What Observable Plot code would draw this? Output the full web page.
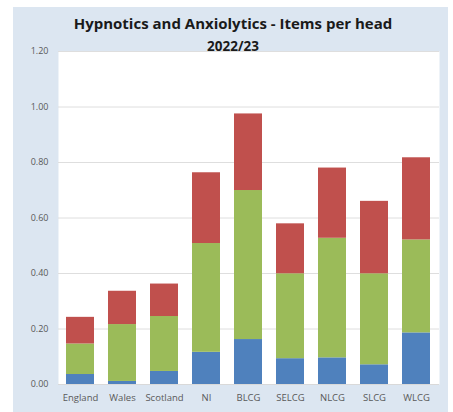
<!DOCTYPE html>
<html>
<head>
<meta charset="utf-8">
<script src="https://cdn.jsdelivr.net/npm/d3@7"></script>
<script src="https://cdn.jsdelivr.net/npm/@observablehq/plot@0.6"></script>
<style>
  html, body { margin: 0; padding: 0; background: #ffffff; }
  #wrap { position: relative; width: 453px; height: 412px; overflow: hidden; background: #ffffff; }
  #panel { position: absolute; left: 13px; top: 7px; width: 435px; height: 410px; background: #dce6f1; }
  #title { position: absolute; left: 0; top: 13px; width: 466px; text-align: center;
           font-family: "Open Sans", sans-serif; font-weight: bold; font-size: 15px; color: #1a1a1a; line-height: 20px; }
  #subtitle { position: absolute; left: 0; top: 38px; width: 466px; text-align: center;
           font-family: "Open Sans", sans-serif; font-weight: bold; font-size: 13.5px; color: #1a1a1a; line-height: 16px; }
  #chart { position: absolute; left: 0; top: 40px; }
</style>
</head>
<body>
<div id="wrap">
  <div id="panel"></div>
  <div id="title">Hypnotics and Anxiolytics - Items per head</div>
  <div id="subtitle">2022/23</div>
  <div id="chart"></div>
</div>
<script>
const categories = ["England", "Wales", "Scotland", "NI", "BLCG", "SELCG", "NLCG", "SLCG", "WLCG"];
const seriesNames = ["Series 1", "Series 2", "Series 3"];
const seriesColors = ["#4f81bd", "#9bbb59", "#c0504d"];
const series1 = [0.036, 0.011, 0.047, 0.116, 0.162, 0.093, 0.096, 0.071, 0.186];
const series2 = [0.110, 0.205, 0.198, 0.392, 0.537, 0.306, 0.431, 0.328, 0.335];
const series3 = [0.096, 0.120, 0.117, 0.255, 0.276, 0.180, 0.253, 0.261, 0.296];
const yTicks = [0, 0.2, 0.4, 0.6, 0.8, 1.0, 1.2];

const seriesValues = [series1, series2, series3];
const rows = [];
seriesValues.forEach((vals, si) => {
  categories.forEach((c, ci) => rows.push({category: c, series: seriesNames[si], value: vals[ci]}));
});

const chart = Plot.plot({
  width: 453,
  height: 372,
  marginTop: 11,
  marginBottom: 28,
  marginLeft: 58,
  marginRight: 14,
  style: {background: "transparent", fontFamily: "'Open Sans', sans-serif", fontSize: "9px", color: "#595959"},
  x: {domain: categories, label: null, paddingInner: 0.333, paddingOuter: 0.2, tickSize: 0, tickPadding: 10},
  y: {domain: [0, 1.2], label: null, ticks: yTicks, tickFormat: d => d.toFixed(2), tickSize: 0, tickPadding: 10},
  color: {domain: seriesNames, range: seriesColors},
  marks: [
    Plot.frame({fill: "white", stroke: null}),
    Plot.ruleY(yTicks.filter(d => d > 0), {stroke: "#dedede", strokeWidth: 1}),
    Plot.barY(rows, Plot.stackY({x: "category", y: "value", fill: "series", order: seriesNames})),
    Plot.ruleY([0], {stroke: "#d9d9d9"})
  ]
});
chart.querySelectorAll("[aria-label='x-axis tick label'] text").forEach(t => t.setAttribute("font-size", "9.5px"));
document.getElementById("chart").appendChild(chart);
</script>
</body>
</html>
